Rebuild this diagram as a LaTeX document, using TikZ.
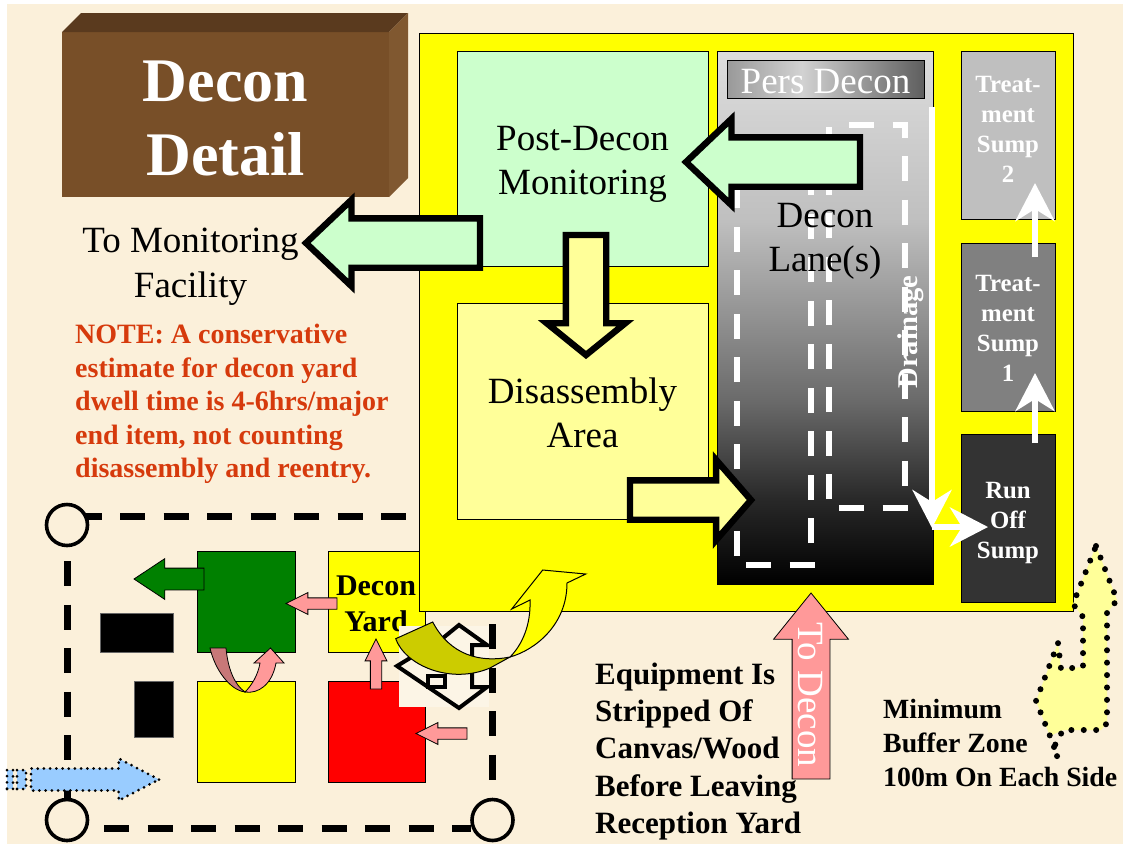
\documentclass[tikz,border=0pt]{standalone}
\usepackage{xcolor}
\usepackage{fontspec}
\setmainfont{Liberation Serif}
\usepackage{tikz}
\usetikzlibrary{arrows.meta,positioning,shapes.arrows,calc}
\definecolor{parchment}{HTML}{FBF0DA}
\definecolor{patchtone}{HTML}{FCF5E6}
\definecolor{frontbrown}{HTML}{784F28}
\definecolor{topbrown}{HTML}{5A3A1E}
\definecolor{sidebrown}{HTML}{805830}
\definecolor{siteyellow}{HTML}{FFFF00}
\definecolor{mintgreen}{HTML}{CCFFCC}
\definecolor{paleyellow}{HTML}{FFFF99}
\definecolor{pinkarrow}{HTML}{FF9999}
\definecolor{darkpink}{HTML}{C87878}
\definecolor{olive}{HTML}{CCCC00}
\definecolor{skyblue}{HTML}{99CCFF}
\definecolor{notered}{HTML}{D63A0C}
\definecolor{darkgreen}{HTML}{008000}
\definecolor{persA}{HTML}{999999}
\definecolor{persB}{HTML}{D2D2D2}
\definecolor{persC}{HTML}{5E5E5E}
\pgfdeclarehorizontalshading{persdecon}{100bp}{color(0bp)=(persA); color(25bp)=(persA); color(44bp)=(persB); color(75bp)=(persC); color(100bp)=(persC)}
\pgfdeclareverticalshading{lanefade}{100bp}{rgb(0bp)=(0,0,0); rgb(25bp)=(0,0,0); rgb(32.9bp)=(.157,.157,.157); rgb(42.2bp)=(.416,.416,.416); rgb(59.1bp)=(.75,.75,.75); rgb(75bp)=(.865,.865,.865); rgb(100bp)=(.865,.865,.865)}
\tikzset{
  decon/box/.style={draw, line width=0.8pt, anchor=north west, inner sep=0pt, outer sep=0pt, align=center},
  decon/label/.style={font=\fontsize{37}{44.5}\selectfont, align=center, inner sep=0pt},
  decon/sumplabel/.style={font=\fontsize{24.8}{30}\selectfont\bfseries, text=white, align=center, inner sep=0pt},
  decon/boldnote/.style={font=\fontsize{31}{37.3}\selectfont\bfseries, align=left, inner sep=0pt, anchor=west},
  decon/blockarrow/.style={draw, single arrow, anchor=tip, inner xsep=0pt, outer sep=0pt, line width=6.4pt, miter limit=10},
  decon/smallarrow/.style={draw, single arrow, anchor=tip, inner xsep=0pt, inner ysep=5.25pt, outer sep=0pt, line width=0.8pt, fill=pinkarrow, minimum width=21, single arrow head extend=5.25, single arrow tip angle=53},
  decon/lanedash/.style={white, line width=6pt, dash pattern=on 25pt off 18.5pt},
  decon/fence/.style={black, line width=7pt, dash pattern=on 25pt off 18.5pt},
  decon/corner/.style={draw, circle, fill=parchment, line width=3.6pt, minimum size=41pt, inner sep=0pt},
  decon/flow/.style={white, line width=6.5pt, -{Stealth[length=38pt,width=39pt,inset=12pt]}},
  decon/dots/.style={draw=black, line width=3pt, line cap=round, dash pattern=on 0pt off 6.2pt},
  decon/bufferdots/.style={draw=black, line width=6pt, line cap=round, dash pattern=on 0pt off 12.4pt}
}
\begin{document}
\begin{tikzpicture}[x=1pt,y=-1pt]
\useasboundingbox (0,0) rectangle (1123,844);
\fill[white] (0,0) rectangle (1123,844);
\fill[parchment] (7,4) rectangle (1123,844);

\node[anchor=north west, fill=frontbrown, minimum width=327, minimum height=165, inner sep=0pt, outer sep=0pt] (title) at (62,32) {};
\fill[topbrown] (title.north west) -- ++(19,-19) -- ++(327,0) -- (title.north east) -- cycle;
\fill[sidebrown] (title.north east) -- ++(19,-19) -- ++(0,165) -- (title.south east) -- cycle;
\node[inner sep=0pt, text=white, align=center, font=\fontsize{62}{74}\selectfont\bfseries] (titletext) at (225.5,118.5) {Decon\\Detail};

\node[decon/label] (monitoring) at (190.5,266.5) {To Monitoring\\Facility};
\node[anchor=west, inner sep=0pt, align=left, text=notered, font=\fontsize{28}{33.5}\selectfont\bfseries] (note) at (75,404) {NOTE: A conservative\\estimate for decon yard\\dwell time is 4-6hrs/major\\end item, not counting\\disassembly and reentry.};

\node[decon/box, fill=siteyellow, minimum width=97, minimum height=101] (yard) at (328,551) {};
\node[decon/box, fill=siteyellow, minimum width=654, minimum height=578] (site) at (419,33) {};
\node[decon/box, fill=mintgreen, minimum width=251, minimum height=215] (postdecon) at (457,51) {};
\node[decon/label] (posttext) at (582.5,164.5) {Post-Decon\\Monitoring};
\node[decon/box, fill=paleyellow, minimum width=251, minimum height=216] (disassembly) at (457,303) {};
\node[decon/label] (disasstext) at (582.5,413) {Disassembly\\Area};
\node[decon/box, shading=lanefade, minimum width=216, minimum height=533] (lane) at (717,51) {};
\node[decon/box, shading=persdecon, minimum width=197, minimum height=38] (pers) at (727,60) {};
\node[decon/label, text=white] (perstext) at (825.5,82) {Pers Decon};
\node[decon/box, fill=black!25, minimum width=94, minimum height=168] (sumpB) at (961,51) {};
\node[decon/box, fill=black!50, minimum width=94, minimum height=168] (sumpA) at (961,243) {};
\node[decon/box, fill=black!80, minimum width=94, minimum height=168] (runoff) at (961,434) {};
\node[decon/sumplabel] (sumpBtext) at (1008,129) {Treat-\\ment\\Sump\\2};
\node[decon/sumplabel] (sumpAtext) at (1008,328) {Treat-\\ment\\Sump\\1};
\node[decon/sumplabel] (runofftext) at (1008,523) {Run\\Off\\Sump};

\node[inner sep=0pt, rotate=90, text=white, font=\fontsize{28.6}{30}\selectfont\bfseries] (drainage) at (911,332) {Drainage};
\draw[decon/lanedash] (737,556) -- (737,160);
\draw[decon/lanedash] (746,565) -- (815,565);
\draw[decon/lanedash] (811,543) -- (811,160);
\draw[decon/lanedash] (829,499) -- (829,127);
\draw[decon/lanedash] (849,125) -- (905,125) -- (905,487);
\draw[decon/lanedash] (839,508) -- (908,508);
\node[decon/label] (lanetext) at (825,241.5) {Decon\\Lane(s)};

\coordinate (drainTop) at (932,107);
\coordinate (drainEnd) at (932,528);
\coordinate (runoffIn) at (988,527);
\coordinate (sumpAout) at (1035,257);
\coordinate (sumpBin) at (1035,183);
\coordinate (runoffOut) at (1035,443);
\coordinate (sumpAin) at (1035,373);
\draw[decon/flow, line width=6pt] (drainTop) -- (drainEnd);
\draw[decon/flow, line width=6pt] (drainEnd |- runoffIn) -- (runoffIn);
\draw[decon/flow] (sumpAout) -- (sumpBin);
\draw[decon/flow] (runoffOut) -- (sumpAin);

\node[decon/blockarrow, fill=mintgreen, inner ysep=21.5pt, minimum height=174, minimum width=80, single arrow head extend=18.5, single arrow tip angle=87, rotate=180] (toPost) at (686,162) {};
\node[decon/blockarrow, fill=mintgreen, inner ysep=21.5pt, minimum height=174, minimum width=80, single arrow head extend=18.5, single arrow tip angle=87, rotate=180] (toFacility) at (306,243) {};
\node[decon/blockarrow, fill=paleyellow, inner ysep=17pt, minimum height=120, minimum width=72, single arrow head extend=19, single arrow tip angle=102, rotate=-90] (toDisassembly) at (586,355) {};
\node[decon/blockarrow, fill=paleyellow, inner ysep=16.5pt, minimum height=121, minimum width=74, single arrow head extend=20.5, single arrow tip angle=98] (toLane) at (751,500) {};

\node[draw, single arrow, anchor=tip, inner xsep=0pt, inner ysep=18.5pt, outer sep=0pt, line width=0.8pt, fill=pinkarrow, minimum height=186, minimum width=74, single arrow head extend=18.5, single arrow tip angle=78, rotate=90] (toDecon) at (811,593) {};
\node[inner sep=0pt, rotate=-90, text=white, font=\fontsize{37}{40}\selectfont] (todecontext) at (810,695) {To Decon};

\node[decon/boldnote] (stripped) at (595,751.5) {Equipment Is\\Stripped Of\\Canvas/Wood\\Before Leaving\\Reception Yard};
\node[decon/boldnote, font=\fontsize{27.8}{34}\selectfont\bfseries] (buffer) at (883,743) {Minimum\\Buffer Zone\\100m On Each Side};

\fill[paleyellow] (1096,546) -- (1117,600) -- (1107,613) -- (1107,723) -- (1101,730) -- (1063,730) -- (1050,736) -- (1036,701) -- (1058,643) -- (1061,669) -- (1083,667) -- (1083,617) -- (1073,604) -- cycle;
\draw[decon/bufferdots] (1096,546) -- (1117,600) -- (1107,613) -- (1107,723) -- (1101,730) -- (1063,730) -- (1054,747) -- (1058,759);
\draw[decon/bufferdots] (1054,747) -- (1050,736) -- (1036,701) -- (1058,643) -- (1061,669) -- (1083,667) -- (1083,617) -- (1073,604) -- (1096,546);

\draw[decon/fence] (76.5,516) -- (406,516);
\draw[decon/fence] (67,561) -- (67,799);
\draw[decon/fence] (104,828) -- (471,828);
\draw[decon/fence] (492,624) -- (492,780);
\node[decon/corner] (cornerTL) at (67,525) {};
\node[decon/corner] (cornerBL) at (67,820) {};
\node[decon/corner] (cornerBR) at (492.5,820) {};

\node[decon/box, fill=black, draw=black!60, minimum width=73, minimum height=39] (blockA) at (100,613) {};
\node[decon/box, fill=black, draw=black!60, minimum width=39, minimum height=56] (blockB) at (134,681) {};
\node[decon/box, fill=darkgreen, minimum width=98, minimum height=101] (greenbox) at (197,551) {};
\node[decon/box, fill=siteyellow, minimum width=98, minimum height=101] (yellowbox) at (197,681) {};
\node[decon/box, fill=red, minimum width=97, minimum height=101] (redbox) at (328,681) {};
\node[inner sep=0pt, align=center, font=\fontsize{30}{36}\selectfont\bfseries] (yardtext) at (376,604) {Decon\\Yard};

\fill[patchtone] (399,626) rectangle (489,707);
\draw[line width=4pt, miter limit=10, fill=patchtone] (459,625) -- (487,645) -- (472,645) -- (472,687) -- (487,687) -- (459,708) -- (397,666) -- (443,638) -- cycle;
\draw[line width=4pt] (428,676) rectangle (445,687);
\draw[decon/fence] (492,624) -- (492,650);
\draw[decon/fence] (492,668) -- (492,692);

\node[draw, single arrow, anchor=tip, inner xsep=0pt, inner ysep=10.5pt, outer sep=0pt, line width=0.8pt, fill=darkgreen, minimum height=70, minimum width=40, single arrow head extend=9.5, single arrow tip angle=67, rotate=180] (toExit) at (134,579) {};
\node[decon/smallarrow, minimum height=51, rotate=180] (toGreen) at (286,603.5) {};
\node[decon/smallarrow, minimum height=50, rotate=90] (toYard) at (376,639) {};
\node[decon/smallarrow, minimum height=51, rotate=180] (toRed) at (416,733.5) {};

\draw[line width=0.8pt, fill=darkpink] (210,648) -- (226,648) .. controls (228,670) and (235,685) .. (245,692) .. controls (230,690) and (215,670) .. cycle;
\draw[line width=0.8pt, fill=pinkarrow] (245,692) .. controls (258,694) and (272,685) .. (276,663) -- (284,663) -- (270.5,648) -- (254,663) -- (260,663) .. controls (258,675) and (252,685) .. cycle;

\draw[line width=1pt, fill=siteyellow] (510,657) .. controls (535,650) and (567,625) .. (567,583) -- (585.7,574) -- (542.7,570) -- (511.7,609) -- (530,600) .. controls (531,625) and (522,645) .. (510,657) -- cycle;
\draw[line width=1pt, fill=olive] (432.7,622) -- (395.7,638.7) .. controls (405,665) and (450,685) .. (490,668) -- (510,657) .. controls (480,663) and (450,655) .. cycle;

\node[decon/box, decon/dots, fill=skyblue, minimum width=6, minimum height=19] (stubA) at (7,770) {};
\node[decon/box, decon/dots, fill=skyblue, minimum width=9, minimum height=19] (stubB) at (17,770) {};
\node[decon/dots, fill=skyblue, single arrow, anchor=tip, inner xsep=0pt, inner ysep=9.5pt, outer sep=0pt, minimum height=128, minimum width=39, single arrow head extend=10, single arrow tip angle=55] (entry) at (159,779.5) {};
\end{tikzpicture}
\end{document}
